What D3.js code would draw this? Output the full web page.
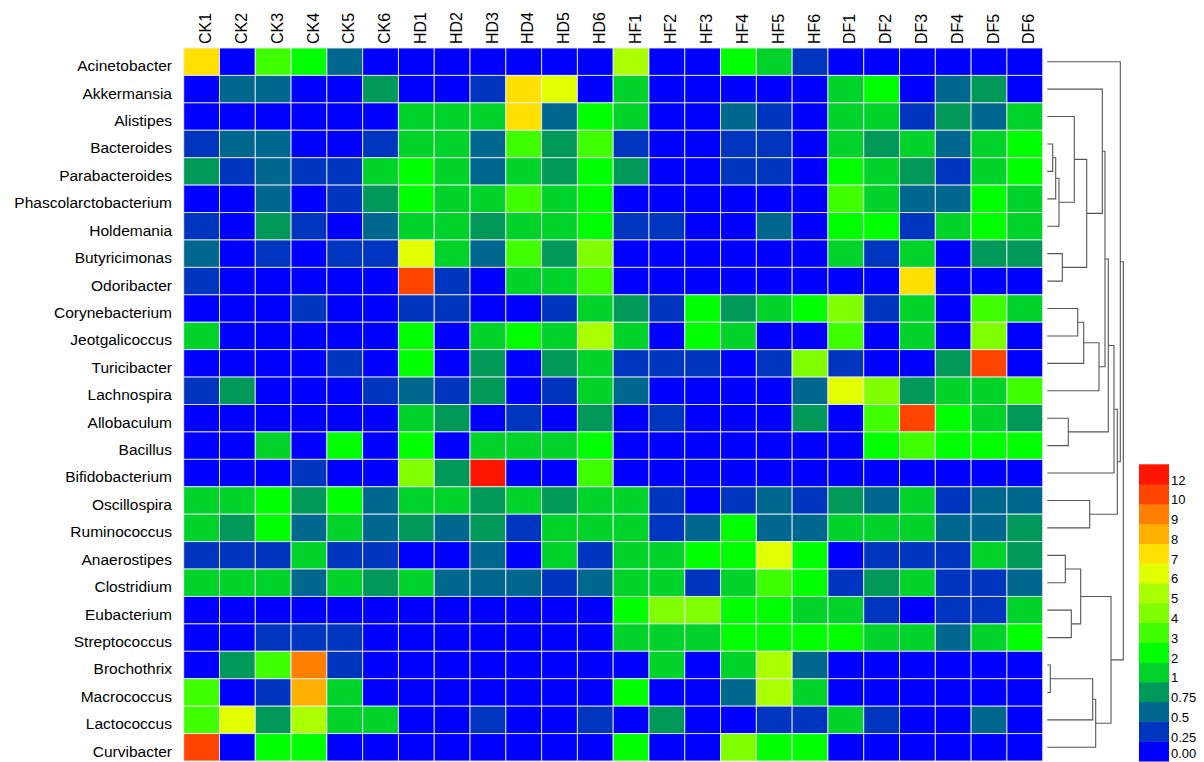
<!DOCTYPE html>
<html>
<head>
<meta charset="utf-8">
<script src="https://cdn.jsdelivr.net/npm/d3@7"></script>
<style>
  body { margin: 0; background: #fff; }
  text { font-family: Arial, "Liberation Sans", sans-serif; fill: #000; }
</style>
</head>
<body>
<svg id="chart" width="1204" height="762"></svg>
<script>
(function () {
    'use strict';

    const samples = ["CK1", "CK2", "CK3", "CK4", "CK5", "CK6",
                     "HD1", "HD2", "HD3", "HD4", "HD5", "HD6",
                     "HF1", "HF2", "HF3", "HF4", "HF5", "HF6",
                     "DF1", "DF2", "DF3", "DF4", "DF5", "DF6"];

    const genera = ["Acinetobacter", "Akkermansia", "Alistipes", "Bacteroides", "Parabacteroides",
                    "Phascolarctobacterium", "Holdemania", "Butyricimonas", "Odoribacter",
                    "Corynebacterium", "Jeotgalicoccus", "Turicibacter", "Lachnospira", "Allobaculum",
                    "Bacillus", "Bifidobacterium", "Oscillospira", "Ruminococcus", "Anaerostipes",
                    "Clostridium", "Eubacterium", "Streptococcus", "Brochothrix", "Macrococcus",
                    "Lactococcus", "Curvibacter"];

    // relative abundance, one row per genus, columns in sample order
    const abundance = [
        [7.5, 0, 3.5, 2.5, 0.6, 0,    0, 0, 0, 0, 0, 0,              5.5, 0, 0, 2.5, 1.5, 0.3,      0, 0, 0, 0, 0, 0],
        [0, 0.6, 0.6, 0, 0, 0.8,      0, 0, 0.3, 7.5, 6.5, 0,        1.5, 0, 0, 0, 0, 0,            1.5, 2.5, 0, 0.6, 0.8, 0],
        [0, 0, 0, 0, 0, 0,            1.5, 1.5, 1.5, 7.5, 0.6, 2.5,  1.5, 0, 0, 0.6, 0.3, 0,        1.5, 1.5, 0.3, 0.8, 0.6, 1.5],
        [0.3, 0.6, 0.6, 0, 0, 0.3,    1.5, 1.5, 0.6, 3.5, 0.8, 3.5,  0.3, 0, 0, 0.3, 0.3, 0,        1.5, 0.8, 1.5, 0.6, 1.5, 2.5],
        [0.8, 0.3, 0.6, 0.3, 0.3, 1.5, 2.5, 1.5, 0.6, 1.5, 0.8, 2.5, 0.8, 0, 0, 0.3, 0.3, 0,        2.5, 1.5, 0.8, 0.3, 1.5, 2.5],
        [0, 0, 0.6, 0, 0.3, 0.8,      2.5, 1.5, 1.5, 3.5, 1.5, 2.5,  0, 0, 0, 0, 0, 0,              3.5, 1.5, 0.6, 0.6, 2.5, 1.5],
        [0.3, 0, 0.8, 0.3, 0, 0.6,    1.5, 1.5, 0.8, 1.5, 1.5, 2.5,  0.3, 0.3, 0, 0, 0.6, 0,        2.5, 2.5, 0.3, 1.5, 2.5, 1.5],
        [0.6, 0, 0.3, 0, 0.3, 0.3,    6.5, 1.5, 0.6, 3.5, 0.8, 4.5,  0, 0, 0, 0, 0, 0,              1.5, 0.3, 1.5, 0, 0.8, 0.8],
        [0.3, 0, 0, 0, 0, 0,          11, 0.3, 0, 1.5, 1.5, 3.5,     0, 0, 0, 0, 0, 0,              0, 0, 7.5, 0, 0, 0],
        [0, 0, 0, 0.3, 0, 0,          0.3, 0.3, 0, 0, 0.3, 1.5,      0.8, 0.3, 2.5, 0.8, 1.5, 2.5,  4.5, 0.3, 1.5, 0, 3.5, 1.5],
        [1.5, 0, 0, 0, 0, 0,          2.5, 0, 1.5, 2.5, 1.5, 5.5,    1.5, 0, 2.5, 1.5, 0, 0,        3.5, 0, 1.5, 0, 4.5, 0],
        [0, 0, 0, 0, 0.3, 0,          2.5, 0, 0.8, 0, 0.8, 1.5,      0.3, 0.3, 0.3, 0, 0.3, 4.5,    0.3, 0, 0, 0.8, 11, 0],
        [0.3, 0.8, 0, 0, 0, 0.3,      0.6, 0.3, 0.8, 0, 0.3, 1.5,    0.6, 0, 0, 0, 0, 0.6,          6.5, 4.5, 0.8, 1.5, 1.5, 3.5],
        [0, 0, 0, 0, 0, 0,            1.5, 0.8, 0, 0.3, 0, 0.8,      0, 0.3, 0, 0, 0, 0.8,          0, 3.5, 11, 2.5, 1.5, 0.8],
        [0, 0, 1.5, 0, 2.5, 0,        2.5, 0, 1.5, 1.5, 1.5, 2.5,    0, 0, 0, 0, 0, 0,              0, 2.5, 3.5, 2.5, 2.5, 2.5],
        [0, 0, 0, 0.3, 0, 0,          4.5, 0.8, 12.5, 0, 0, 3.5,     0, 0, 0, 0, 0, 0,              0, 0, 0, 0, 0, 0],
        [1.5, 1.5, 2.5, 0.8, 2.5, 0.6, 1.5, 1.5, 0.8, 1.5, 0.8, 1.5, 1.5, 0.3, 0, 0.3, 0.6, 0.3,    0.8, 0.6, 1.5, 0.3, 0.6, 0.6],
        [1.5, 0.8, 2.5, 0.6, 1.5, 0.6, 0.8, 0.6, 0.8, 0.3, 1.5, 1.5, 1.5, 0.3, 0.6, 2.5, 0.6, 0.6,  1.5, 1.5, 1.5, 0.6, 0.6, 0.8],
        [0.3, 0.3, 0.3, 1.5, 0.3, 0.3, 0, 0, 0.6, 0, 1.5, 0.3,       1.5, 1.5, 2.5, 2.5, 6.5, 2.5,  0, 0.3, 0.3, 0.3, 1.5, 0.8],
        [1.5, 1.5, 1.5, 0.6, 1.5, 0.8, 1.5, 0.6, 0.6, 0.6, 0.3, 0.6, 1.5, 1.5, 0.3, 1.5, 3.5, 2.5,  0.3, 0.8, 1.5, 0.3, 0.3, 0.6],
        [0, 0, 0, 0, 0, 0,            0, 0, 0, 0, 0, 0,              2.5, 4.5, 4.5, 2.5, 2.5, 1.5,  1.5, 0.3, 0, 0.3, 0.3, 1.5],
        [0, 0, 0.3, 0.3, 0.3, 0,      0, 0, 0, 0, 0, 0,              1.5, 1.5, 1.5, 2.5, 2.5, 2.5,  2.5, 1.5, 1.5, 0.6, 1.5, 2.5],
        [0, 0.8, 3.5, 9.5, 0.3, 0,    0, 0, 0, 0, 0, 0,              0, 1.5, 0, 1.5, 5.5, 0.6,      0, 0, 0, 0, 0, 0],
        [3.5, 0, 0.3, 8.5, 1.5, 0,    0, 0, 0, 0, 0, 0,              2.5, 0, 0, 0.6, 5.5, 1.5,      0, 0, 0, 0, 0, 0],
        [3.5, 6.5, 0.8, 5.5, 1.5, 1.5, 0, 0, 0.3, 0, 0, 0.3,         0, 0.8, 0, 0, 0.3, 0.3,        1.5, 0.3, 0, 0, 0.6, 0],
        [11, 0, 2.5, 2.5, 0, 0,       0, 0, 0, 0, 0, 0,              2.5, 0, 0, 4.5, 2.5, 2.5,      0, 0, 0, 0, 0, 0]
    ];

    const legendLabels = ["0.00", "0.25", "0.5", "0.75", "1", "2", "3", "4", "5", "6", "7", "8", "9", "10", "12"];
    const breaks = [0.25, 0.5, 0.75, 1, 2, 3, 4, 5, 6, 7, 8, 9, 10, 12];
    const palette = ["#0000ff", "#0036bf", "#00688f", "#00995a", "#00d42a", "#00ff00", "#40ff00",
                     "#80ff00", "#aaff00", "#e2ff00", "#ffe000", "#ffb000", "#ff8000", "#ff4400", "#ff1500"];

    // row clustering: [left, right, height]; ids < 26 are genera, id 26+k is merge k
    const merges = [
        [3, 4, 5.4], [26, 5, 8.4], [27, 6, 11.7], [2, 28, 27], [7, 8, 15],
        [29, 30, 39.4], [1, 31, 55], [9, 10, 30.4], [33, 11, 36.4], [34, 12, 51.7],
        [32, 35, 57.7], [13, 14, 21], [36, 37, 61], [38, 15, 66.7], [16, 17, 42.4],
        [39, 40, 70], [0, 41, 73], [18, 19, 18], [20, 21, 24], [43, 44, 33.4],
        [22, 23, 3], [46, 24, 45.4], [47, 25, 48.4], [45, 48, 63.7], [42, 49, 76]
    ];

    const svg = d3.select("#chart");

    let x = d3.scaleBand().domain(samples).range([183.7, 1042.7]);
    let y = d3.scaleBand().domain(genera).range([48, 761]);
    let color = d3.scaleThreshold().domain(breaks).range(palette);

    let cells = [];
    genera.forEach((g, i) => samples.forEach((s, j) => cells.push({genus: g, sample: s, value: abundance[i][j]})));

    svg.append("g").selectAll("rect")
        .data(cells)
        .join("rect")
        .attr("x", d => x(d.sample))
        .attr("y", d => y(d.genus))
        .attr("width", x.bandwidth())
        .attr("height", y.bandwidth())
        .attr("fill", d => color(d.value))
        .attr("stroke", "#f0f0f0")
        .attr("stroke-opacity", 0.85)
        .attr("stroke-width", 1);

    // column labels
    svg.append("g").selectAll("text")
        .data(samples)
        .join("text")
        .attr("transform", d => `translate(${x(d) + x.bandwidth() / 2 + 4},44) rotate(-90)`)
        .attr("dy", "0.35em")
        .style("font-size", "16px")
        .text(d => d);

    // row labels (sit a little below the row centre, as in the original)
    svg.append("g").selectAll("text")
        .data(genera)
        .join("text")
        .attr("x", 172)
        .attr("y", d => y(d) + y.bandwidth() / 2 + 4)
        .attr("dy", "0.35em")
        .attr("text-anchor", "end")
        .style("font-size", "15.5px")
        .text(d => d);

    // dendrogram
    let nodes = {};
    genera.forEach((g, i) => { nodes[i] = {id: i, height: 0, genus: g}; });
    merges.forEach((m, k) => {
        nodes[26 + k] = {id: 26 + k, height: m[2], children: [nodes[m[0]], nodes[m[1]]]};
    });
    let root = d3.hierarchy(nodes[26 + merges.length - 1]);
    let dx = d3.scaleLinear().domain([0, 76]).range([1047.3, 1123.3]);

    root.eachAfter(n => {
        n.yPos = n.children ? d3.mean(n.children, c => c.yPos) : y(n.data.genus) + y.bandwidth() / 2;
    });

    let path = d3.path();
    root.each(n => {
        if (!n.children) return;
        let hx = dx(n.data.height);
        let [a, b] = n.children;
        path.moveTo(dx(a.data.height), a.yPos);
        path.lineTo(hx, a.yPos);
        path.lineTo(hx, b.yPos);
        path.lineTo(dx(b.data.height), b.yPos);
    });

    svg.append("path")
        .attr("d", path.toString())
        .attr("fill", "none")
        .attr("stroke", "#555")
        .attr("stroke-width", 1.1);

    // colour key
    let ly = d3.scaleBand().domain(legendLabels.slice().reverse()).range([464.3, 761]);
    let key = svg.append("g");
    key.selectAll("rect")
        .data(legendLabels)
        .join("rect")
        .attr("x", 1139)
        .attr("y", d => ly(d))
        .attr("width", 30)
        .attr("height", ly.bandwidth() + 0.5)
        .attr("fill", (d, i) => palette[i]);
    key.selectAll("text")
        .data(legendLabels)
        .join("text")
        .attr("x", 1171)
        .attr("y", d => Math.min(ly(d) + ly.bandwidth() + 0.5, 758))
        .style("font-size", "13px")
        .text(d => d);
})();
</script>
</body>
</html>
